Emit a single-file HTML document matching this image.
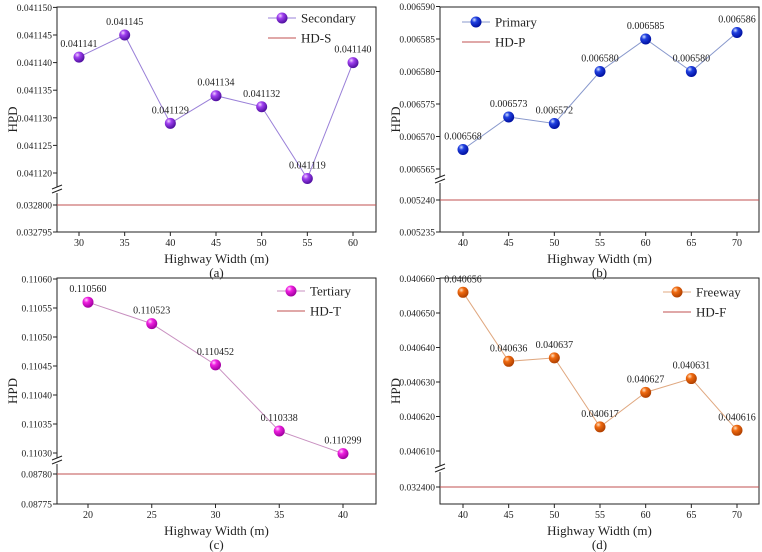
<!DOCTYPE html>
<html><head><meta charset="utf-8"><style>
body{margin:0;background:#fff}
svg{display:block;font-family:"Liberation Serif",serif}
</style></head><body>
<svg id="c" width="762" height="552">
<defs>
<radialGradient id="gP" cx="35%" cy="30%" r="70%"><stop offset="0" stop-color="#f0d0ff"/><stop offset="0.35" stop-color="#a040f0"/><stop offset="1" stop-color="#5010a0"/></radialGradient>
<radialGradient id="gB" cx="35%" cy="30%" r="70%"><stop offset="0" stop-color="#d0e0ff"/><stop offset="0.35" stop-color="#2040e0"/><stop offset="1" stop-color="#0010a0"/></radialGradient>
<radialGradient id="gM" cx="35%" cy="30%" r="70%"><stop offset="0" stop-color="#ffd0ff"/><stop offset="0.35" stop-color="#f020e0"/><stop offset="1" stop-color="#a000a0"/></radialGradient>
<radialGradient id="gO" cx="35%" cy="30%" r="70%"><stop offset="0" stop-color="#ffe0c0"/><stop offset="0.35" stop-color="#f06a10"/><stop offset="1" stop-color="#b04000"/></radialGradient>
</defs>
</svg>
<script>
const xA=[30,35,40,45,50,55,60];
const yA=[0.041141,0.041145,0.041129,0.041134,0.041132,0.041119,0.041140];
const labA=["0.041141","0.041145","0.041129","0.041134","0.041132","0.041119","0.041140"];
const hdA=0.0328;
const ticksUA=["0.041120","0.041125","0.041130","0.041135","0.041140","0.041145","0.041150"];
const ticksLA=["0.032795","0.032800"];

const xB=[40,45,50,55,60,65,70];
const yB=[0.006568,0.006573,0.006572,0.006580,0.006585,0.006580,0.006586];
const labB=["0.006568","0.006573","0.006572","0.006580","0.006585","0.006580","0.006586"];
const hdB=0.00524;
const ticksUB=["0.006565","0.006570","0.006575","0.006580","0.006585","0.006590"];
const ticksLB=["0.005235","0.005240"];

const xC=[20,25,30,35,40];
const yC=[0.110560,0.110523,0.110452,0.110338,0.110299];
const labC=["0.110560","0.110523","0.110452","0.110338","0.110299"];
const hdC=0.0878;
const ticksUC=["0.11030","0.11035","0.11040","0.11045","0.11050","0.11055","0.11060"];
const ticksLC=["0.08775","0.08780"];

const xD=[40,45,50,55,60,65,70];
const yD=[0.040656,0.040636,0.040637,0.040617,0.040627,0.040631,0.040616];
const labD=["0.040656","0.040636","0.040637","0.040617","0.040627","0.040631","0.040616"];
const hdD=0.0324;
const ticksUD=["0.040610","0.040620","0.040630","0.040640","0.040650","0.040660"];
const ticksLD=["0.032400"];

const svg=document.getElementById('c');
const NS="http://www.w3.org/2000/svg";
function mk(tag,at,parent){const e=document.createElementNS(NS,tag);for(const k in at)e.setAttribute(k,at[k]);(parent||svg).appendChild(e);return e;}

function panel(o){
  const g=mk('g',{});
  
  
  const sx=v=>o.x0+(v-o.xs[0])/(o.xs[o.xs.length-1]-o.xs[0])*(o.x1-o.x0);
  const split=(o.lMax+o.uMin)/2;
  const sy=v=>{
    if(v>=split) return o.yU0+(v-o.uMin)/(o.uMax-o.uMin)*(o.yU1-o.yU0);
    return o.yL0+(v-o.lMin)/(o.lMax-o.lMin)*(o.yL1-o.yL0);
  };
  const fr=mk('rect',{x:o.L,y:o.T,width:o.R-o.L,height:o.B-o.T,fill:'none',stroke:'#222','stroke-width':1},g);
  
  
  const bk=mk('g',{},g);
  
  
  mk('rect',{x:o.L-1.5,y:o.brk-3,width:3,height:6,fill:'#fff'},bk);
  mk('line',{x1:o.L-5,y1:o.brk-1,x2:o.L+5,y2:o.brk-5,stroke:'#222'},bk);
  mk('line',{x1:o.L-5,y1:o.brk+3,x2:o.L+5,y2:o.brk-1,stroke:'#222'},bk);
  o.tu.concat(o.tl).forEach(t=>{
    const y=sy(parseFloat(t));
    mk('line',{x1:o.L-4,y1:y,x2:o.L,y2:y,stroke:'#222'},g);
    const tx=mk('text',{x:o.L-5,y:y+3.5,'font-size':9.5,'text-anchor':'end',fill:'#222'},g);
    tx.textContent=t;
    
    
  });
  o.xs.forEach(v=>{
    const x=sx(v);
    mk('line',{x1:x,y1:o.B,x2:x,y2:o.B+4,stroke:'#222'},g);
    const tx=mk('text',{x:x,y:o.B+14,'font-size':10,'text-anchor':'middle',fill:'#222'},g);
    tx.textContent=v;
    
    
  });
  const xt=mk('text',{x:(o.L+o.R)/2,y:o.B+31,'font-size':13,'text-anchor':'middle',fill:'#222'},g);
  xt.textContent='Highway Width (m)';
  
  
  const cap=mk('text',{x:(o.L+o.R)/2,y:o.B+45,'font-size':13,'text-anchor':'middle',fill:'#222'},g);
  cap.textContent=o.cap;
  
  
  const yt=mk('text',{x:0,y:0,'font-size':13,'text-anchor':'middle',fill:'#222',transform:`translate(${o.L-40},${(o.T+o.B)/2}) rotate(-90)`},g);
  yt.textContent='HPD';
  
  
  const hy=sy(o.hd);
  const hl=mk('line',{x1:o.L,y1:hy,x2:o.R,y2:hy,stroke:'#c05050','stroke-width':1},g);
  
  
  const pts=o.xs.map((v,i)=>sx(v)+','+sy(o.ys[i])).join(' ');
  const pl=mk('polyline',{points:pts,fill:'none',stroke:o.lc,'stroke-width':1},g);
  
  
  o.xs.forEach((v,i)=>{
    const c=mk('circle',{cx:sx(v),cy:sy(o.ys[i]),r:5.5,fill:o.grad},g);
    
    
    const t=mk('text',{x:sx(v),y:sy(o.ys[i])-10,'font-size':10,'text-anchor':'middle',fill:'#222'},g);
    t.textContent=o.labs[i];
    
    
  });
  const lg=mk('g',{},g);
  
  
  const e1=mk('g',{},lg);
  
  
  mk('line',{x1:o.lgx,y1:o.lgy,x2:o.lgx+28,y2:o.lgy,stroke:o.lc},e1);
  mk('circle',{cx:o.lgx+14,cy:o.lgy,r:5.5,fill:o.grad},e1);
  const t1=mk('text',{x:o.lgx+33,y:o.lgy+4.5,'font-size':13,fill:'#222'},e1);t1.textContent=o.sname;
  const e2=mk('g',{},lg);
  
  
  mk('line',{x1:o.lgx,y1:o.lgy+20,x2:o.lgx+28,y2:o.lgy+20,stroke:'#c05050'},e2);
  const t2=mk('text',{x:o.lgx+33,y:o.lgy+24.5,'font-size':13,fill:'#222'},e2);t2.textContent=o.hname;
}

panel({name:'secondary',L:57,R:376,T:7,B:232,x0:79,x1:353,xs:xA,ys:yA,labs:labA,hd:hdA,tu:ticksUA,tl:ticksLA,
 uMin:0.04112,uMax:0.04115,yU0:173,yU1:7.4,lMin:0.032795,lMax:0.0328,yL0:232,yL1:205,brk:190,
 lc:'#9a80d8',grad:'url(#gP)',cap:'(a)',sname:'Secondary',hname:'HD-S',lgx:268,lgy:18});
panel({name:'primary',L:440,R:759,T:7,B:232,x0:463,x1:737,xs:xB,ys:yB,labs:labB,hd:hdB,tu:ticksUB,tl:ticksLB,
 uMin:0.006565,uMax:0.00659,yU0:169,yU1:6.5,lMin:0.005235,lMax:0.00524,yL0:232,yL1:200,brk:180,
 lc:'#8898cc',grad:'url(#gB)',cap:'(b)',sname:'Primary',hname:'HD-P',lgx:462,lgy:22});
panel({name:'tertiary',L:57,R:376,T:278,B:504,x0:88,x1:343,xs:xC,ys:yC,labs:labC,hd:hdC,tu:ticksUC,tl:ticksLC,
 uMin:0.1103,uMax:0.1106,yU0:453,yU1:279,lMin:0.08775,lMax:0.0878,yL0:504,yL1:474,brk:461,
 lc:'#c890c0',grad:'url(#gM)',cap:'(c)',sname:'Tertiary',hname:'HD-T',lgx:277,lgy:291});
panel({name:'freeway',L:440,R:759,T:278,B:504,x0:463,x1:737,xs:xD,ys:yD,labs:labD,hd:hdD,tu:ticksUD,tl:ticksLD,
 uMin:0.04061,uMax:0.04066,yU0:451,yU1:278.5,lMin:0.0324,lMax:0.03241,yL0:487,yL1:470,brk:469,
 lc:'#e0a880',grad:'url(#gO)',cap:'(d)',sname:'Freeway',hname:'HD-F',lgx:663,lgy:292});
</script>
</body></html>
